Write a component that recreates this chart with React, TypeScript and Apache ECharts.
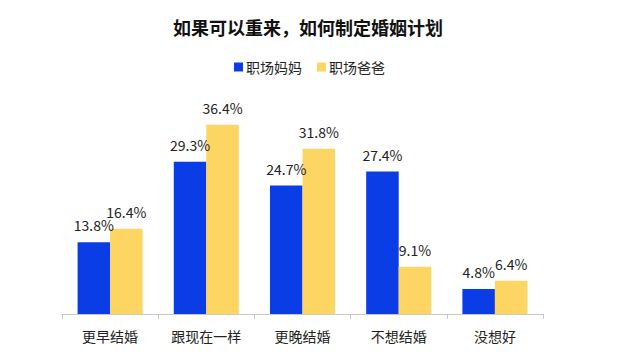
import React, { useEffect, useRef } from "react";
import * as echarts from "echarts";

const titleText = "如果可以重来，如何制定婚姻计划";
const categories = ["更早结婚", "跟现在一样", "更晚结婚", "不想结婚", "没想好"];
const seriesNames = ["职场妈妈", "职场爸爸"];
const momValues = [13.8, 29.3, 24.7, 27.4, 4.8];
const dadValues = [16.4, 36.4, 31.8, 9.1, 6.4];
const colors = ["#0a3de6", "#fdd563"];

const FONT = "'Noto Sans CJK SC', 'Noto Sans', sans-serif";

export default function App() {
  const ref = useRef<HTMLDivElement>(null);
  useEffect(() => {
    document.body.style.margin = "0";
    if (!ref.current) return;
    const chart = echarts.init(ref.current, null, { renderer: "svg" });
    const label = {
      show: true,
      position: "top",
      distance: 10,
      color: "#222",
      fontSize: 14,
      fontFamily: FONT,
      formatter: (p: any) => `${p.value}%`,
    };
    chart.setOption({
      animation: false,
      backgroundColor: "#fff",
      textStyle: { fontFamily: FONT },
      title: {
        text: titleText,
        left: 303,
        textAlign: "center",
        top: 13,
        textStyle: { fontSize: 18, fontWeight: "bold", color: "#111", fontFamily: FONT },
      },
      legend: {
        data: seriesNames,
        left: 229,
        top: 55,
        itemWidth: 9,
        itemHeight: 9,
        itemGap: 15,
        icon: "rect",
        textStyle: { fontSize: 14, color: "#222", fontFamily: FONT, padding: [0, 0, 0, -2] },
      },
      grid: { left: 62, right: 97, top: 106, bottom: 49, containLabel: false },
      xAxis: {
        type: "category",
        data: categories,
        axisLine: { lineStyle: { color: "#c8c8c8" } },
        axisTick: { show: true, length: 5, lineStyle: { color: "#c8c8c8" } },
        axisLabel: { color: "#222", fontSize: 14, margin: 15, fontFamily: FONT },
      },
      yAxis: {
        type: "value",
        min: 0,
        max: 40,
        show: false,
        splitLine: { show: false },
      },
      series: [
        {
          name: seriesNames[0],
          type: "bar",
          data: momValues,
          barWidth: "33.8%",
          barGap: "0%",
          itemStyle: { color: colors[0] },
          label,
        },
        {
          name: seriesNames[1],
          type: "bar",
          data: dadValues,
          barWidth: "33.8%",
          barGap: "0%",
          itemStyle: { color: colors[1] },
          label,
        },
      ],
    });
    return () => chart.dispose();
  }, []);
  return <div ref={ref} style={{ width: 640, height: 363 }} />;
}
